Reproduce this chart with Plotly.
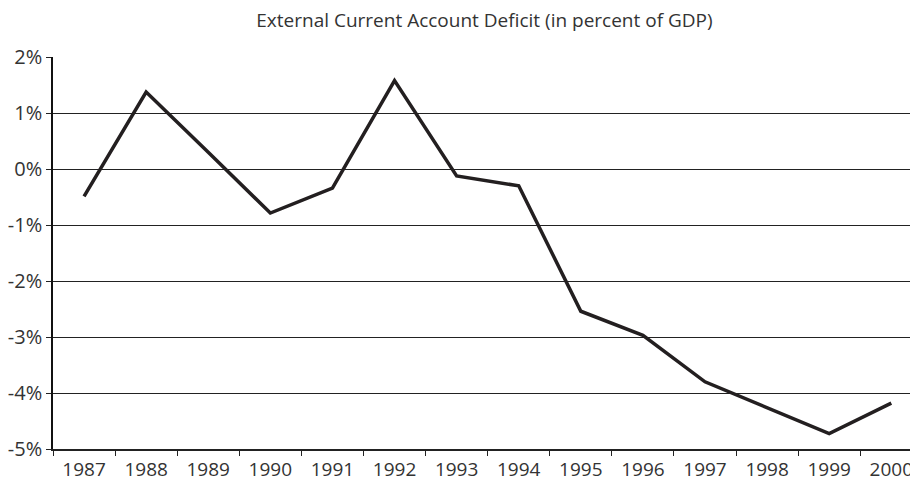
import plotly.graph_objects as go

# External current account balance, percent of GDP
years = ['1987', '1988', '1989', '1990', '1991', '1992', '1993',
         '1994', '1995', '1996', '1997', '1998', '1999', '2000']
deficit = [-0.49, 1.375, 0.30, -0.786, -0.34, 1.58, -0.125,
           -0.30, -2.54, -2.97, -3.80, -4.26, -4.725, -4.18]
y_ticks = [2, 1, 0, -1, -2, -3, -4, -5]
y_tick_labels = ['2%', '1%', '0%', '-1%', '-2%', '-3%', '-4%', '-5%']

TEXT = '#333333'
LINE = '#231f20'

# the page body has an 8px margin, so the figure is 8px smaller each way
fig = go.Figure()
fig.add_trace(go.Scatter(x=years, y=deficit, mode='lines',
                         line=dict(color=LINE, width=3.5), showlegend=False))

fig.update_layout(
    width=910, height=473,
    paper_bgcolor='white', plot_bgcolor='white',
    font=dict(family='Open Sans', color=TEXT),
    margin=dict(l=45, r=0, t=49, b=32),
    title=dict(text='External Current Account Deficit (in percent of GDP)',
               x=0.5236, xanchor='center', y=0.9746, yanchor='middle',
               font=dict(size=19, color=TEXT)),
)
fig.update_xaxes(
    type='category', range=[-0.5, 13.43], tickson='boundaries',
    showgrid=False, zeroline=False, automargin=False,
    showline=True, linecolor='#222222', linewidth=1.5,
    ticks='outside', ticklen=5, tickcolor='#222222',
    ticklabelstandoff=2,
    tickfont=dict(size=19, color=TEXT),
)
fig.update_yaxes(
    range=[-5, 2], tickmode='array', tickvals=y_ticks, ticktext=y_tick_labels,
    showgrid=True, gridcolor='#222222', gridwidth=1.2, zeroline=False,
    automargin=False,
    showline=True, linecolor='#111111', linewidth=1.5,
    ticks='outside', ticklen=5, tickcolor='#222222',
    tickfont=dict(size=20, color=TEXT),
)

fig.write_html('out.html')
